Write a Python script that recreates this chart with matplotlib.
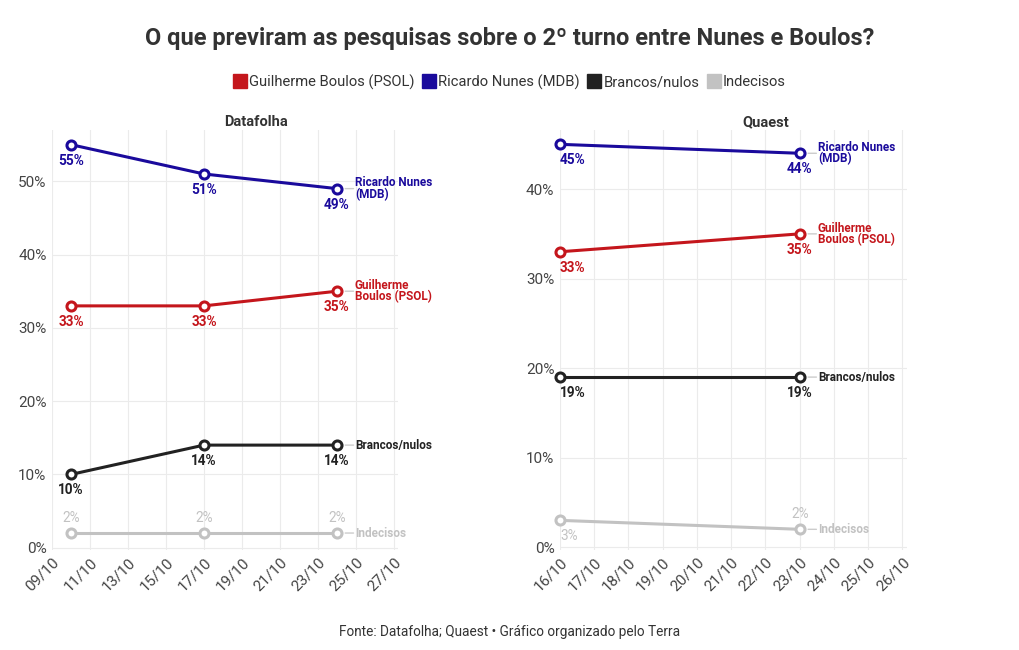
import datetime as dt
import matplotlib.pyplot as plt
import matplotlib.dates as mdates
from matplotlib.lines import Line2D

plt.rcParams['font.family'] = ['Roboto', 'DejaVu Sans']

# Datafolha
df_dates = [dt.date(2024, 10, 10), dt.date(2024, 10, 17), dt.date(2024, 10, 24)]
df_boulos = [33, 33, 35]
df_nunes = [55, 51, 49]
df_brancos = [10, 14, 14]
df_indec = [2, 2, 2]

# Quaest
qu_dates = [dt.date(2024, 10, 16), dt.date(2024, 10, 23)]
qu_boulos = [33, 35]
qu_nunes = [45, 44]
qu_brancos = [19, 19]
qu_indec = [3, 2]

names = ["Guilherme Boulos (PSOL)", "Ricardo Nunes (MDB)", "Brancos/nulos", "Indecisos"]
end_labels = ["Guilherme\nBoulos (PSOL)", "Ricardo Nunes\n(MDB)", "Brancos/nulos", "Indecisos"]
colors = ["#c4161c", "#1a0a9c", "#222222", "#c2c2c2"]

fig = plt.figure(figsize=(10.2, 6.5), dpi=100)
ax1 = fig.add_axes([0.051, 0.154, 0.339, 0.646])
ax2 = fig.add_axes([0.549, 0.154, 0.340, 0.646])


def panel(ax, dates, series, xlim, ylim, first_left):
    for k, (vals, col) in enumerate(zip(series, colors)):
        ax.plot(dates, vals, color=col, lw=2.2, marker='o', ms=6.5,
                mfc='white', mec=col, mew=2.2, zorder=3, clip_on=False)
        light = k == 3
        for i, (d, v) in enumerate(zip(dates, vals)):
            above = light and not (first_left and i == 0)
            ha = 'left' if (first_left and i == 0) else 'center'
            ax.annotate(f"{v}%", (d, v), xytext=(0, 6 if above else -6.5),
                        textcoords='offset points', ha=ha,
                        va='bottom' if above else 'top', color=col,
                        fontsize=9.8, fontweight='normal' if light else 'bold',
                        zorder=4)
        d, v = dates[-1], vals[-1]
        ax.annotate("", (d, v), xytext=(12, 0), textcoords='offset points',
                    arrowprops=dict(arrowstyle='-', color='#cccccc', lw=1,
                                    shrinkA=0, shrinkB=6))
        ax.annotate(end_labels[k], (d, v), xytext=(13, 0), textcoords='offset points',
                    ha='left', va='center', color=col, fontsize=8.5,
                    fontweight='bold', linespacing=0.85, annotation_clip=False)
    ax.set_xlim(xlim)
    ax.set_ylim(ylim)
    ax.yaxis.set_major_locator(plt.MultipleLocator(10))
    ax.yaxis.set_major_formatter(plt.FuncFormatter(lambda v, p: f"{v:.0f}%"))
    ax.grid(color='#ebebeb', lw=0.8)
    ax.set_axisbelow(True)
    for s in ax.spines.values():
        s.set_visible(False)
    ax.tick_params(length=0, labelsize=11, colors='#444444', pad=4)


panel(ax1, df_dates, [df_boulos, df_nunes, df_brancos, df_indec],
      (dt.date(2024, 10, 9), dt.datetime(2024, 10, 27, 5)), (-0.3, 57), False)
panel(ax2, qu_dates, [qu_boulos, qu_nunes, qu_brancos, qu_indec],
      (dt.date(2024, 10, 16), dt.datetime(2024, 10, 26, 3)), (-0.3, 46.6), True)
ax1.xaxis.set_major_locator(mdates.DayLocator(bymonthday=range(9, 28, 2)))
ax2.xaxis.set_major_locator(mdates.DayLocator(bymonthday=range(16, 27)))
for ax in (ax1, ax2):
    ax.xaxis.set_major_formatter(mdates.DateFormatter('%d/%m'))
    for lab in ax.get_xticklabels():
        lab.set_rotation(45)
        lab.set_ha('right')
        lab.set_rotation_mode('anchor')

fig.text(0.251, 0.812, "Datafolha", ha='center', va='center', fontsize=10.5,
         fontweight='bold', color='#333333')
fig.text(0.751, 0.812, "Quaest", ha='center', va='center', fontsize=10.5,
         fontweight='bold', color='#333333')

fig.suptitle("O que previram as pesquisas sobre o 2º turno entre Nunes e Boulos?",
             x=0.5, y=0.958, fontsize=17, fontweight='bold', color='#333333')

handles = [Line2D([], [], ls='', marker='s', ms=10, color=c) for c in colors]
fig.legend(handles, names, loc='center', bbox_to_anchor=(0.5, 0.874), ncol=4,
           frameon=False, fontsize=10.6, handlelength=0.8, handletextpad=0.2,
           columnspacing=0.6, labelcolor='#333333')

fig.text(0.5, 0.028, "Fonte: Datafolha; Quaest • Gráfico organizado pelo Terra",
         ha='center', va='center', fontsize=9.8, color='#333333')

fig.savefig("out.png", dpi=100)
